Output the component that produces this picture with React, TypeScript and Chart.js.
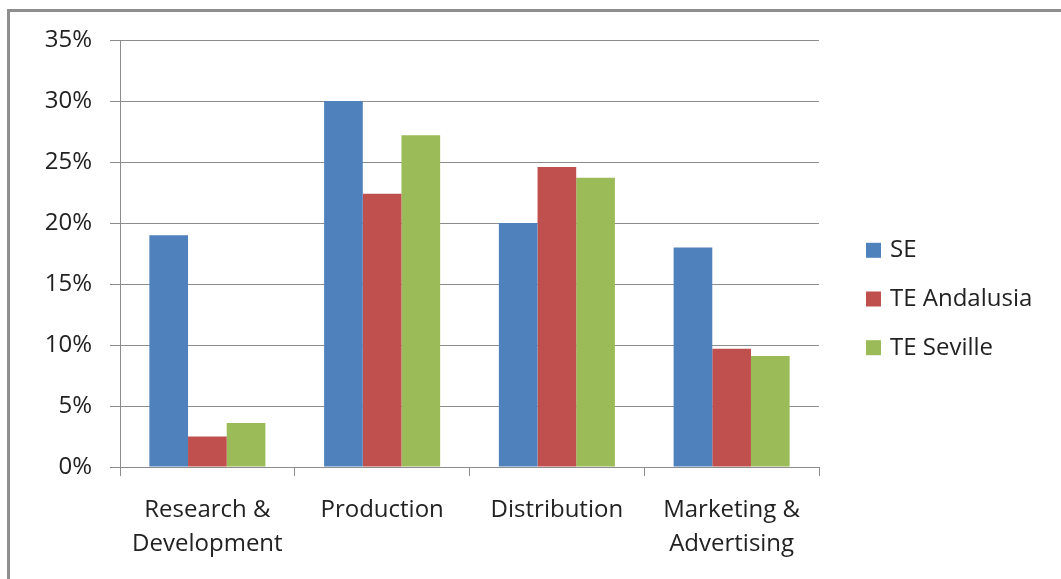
import React, { useEffect, useRef } from 'react';
import { Chart, registerables } from 'chart.js';

Chart.register(...registerables);

const categories: (string | string[])[] = [
  ['Research &', 'Development'],
  'Production',
  'Distribution',
  ['Marketing &', 'Advertising'],
];
const seriesNames = ['SE', 'TE Andalusia', 'TE Seville'];
const seValues = [19.0, 30.0, 20.0, 18.0];
const andalusiaValues = [2.5, 22.4, 24.6, 9.7];
const sevilleValues = [3.6, 27.2, 23.7, 9.1];
const yMin = 0;
const yMax = 35;
const yStep = 5;

const colors = ['#4F81BD', '#C0504D', '#9BBB59'];
const gridColor = '#8c8c8c';
const textColor = '#222222';
const FONT = '"Open Sans", Lato, sans-serif';
const FONT_SIZE = 24;

const legendPlugin = {
  id: 'sideLegend',
  afterDraw(chart: any) {
    const ctx = chart.ctx;
    const { right } = chart.chartArea;
    const boxX = right + 47;
    const box = 15;
    const spacing = 48.7;
    const midY = 299;
    const n = chart.data.datasets.length;
    ctx.save();
    ctx.font = `${FONT_SIZE}px ${FONT}`;
    ctx.textBaseline = 'middle';
    ctx.textAlign = 'left';
    chart.data.datasets.forEach((ds: any, i: number) => {
      const cy = midY + (i - (n - 1) / 2) * spacing;
      ctx.fillStyle = ds.backgroundColor;
      ctx.fillRect(boxX, cy - box / 2, box, box);
      ctx.fillStyle = textColor;
      ctx.fillText(ds.label, boxX + 24, cy);
    });
    ctx.restore();
  },
};

export default function App() {
  const ref = useRef<HTMLCanvasElement | null>(null);

  useEffect(() => {
    if (!ref.current) return;
    const chart = new Chart(ref.current, {
      type: 'bar',
      data: {
        labels: categories,
        datasets: [seValues, andalusiaValues, sevilleValues].map((d, i) => ({
          label: seriesNames[i],
          data: d,
          backgroundColor: colors[i],
          borderWidth: 0,
          barPercentage: 1,
          categoryPercentage: 0.664,
        })),
      },
      options: {
        animation: false,
        responsive: false,
        maintainAspectRatio: false,
        devicePixelRatio: 1,
        layout: { padding: { left: 10, top: 40, right: 242, bottom: 0 } },
        font: { family: FONT },
        plugins: {
          tooltip: { enabled: false },
          legend: { display: false },
        },
        scales: {
          x: {
            grid: {
              display: true,
              drawOnChartArea: false,
              drawTicks: true,
              tickLength: 9,
              color: gridColor,
              offset: true,
            },
            border: { display: true, color: gridColor, width: 1 },
            ticks: {
              color: textColor,
              font: { family: FONT, size: FONT_SIZE, lineHeight: 1.38 },
              padding: 18,
              maxRotation: 0,
              autoSkip: false,
            },
            afterFit: (s: any) => {
              s.height = 112;
            },
          },
          y: {
            min: yMin,
            max: yMax,
            position: 'left',
            grid: { color: gridColor, tickLength: 10, drawTicks: true },
            border: { display: true, color: gridColor, width: 1 },
            ticks: {
              stepSize: yStep,
              color: textColor,
              padding: 18,
              font: { family: FONT, size: FONT_SIZE },
              callback: (v: any) => `${v}%`,
            },
            afterFit: (s: any) => {
              s.width = 110;
            },
          },
        },
      } as any,
      plugins: [legendPlugin],
    });
    return () => chart.destroy();
  }, []);

  return (
    <div style={{ position: 'fixed', left: 0, top: 0, width: 1061, height: 579, background: '#fff', overflow: 'hidden' }}>
      <div
        style={{
          position: 'absolute',
          left: 7,
          top: 9,
          width: 2000,
          height: 2000,
          borderLeft: '3px solid #8e8e8e',
          borderTop: '3px solid #8e8e8e',
        }}
      />
      <canvas ref={ref} width={1061} height={579} style={{ position: 'absolute', left: 0, top: 0, width: 1061, height: 579 }} />
    </div>
  );
}
